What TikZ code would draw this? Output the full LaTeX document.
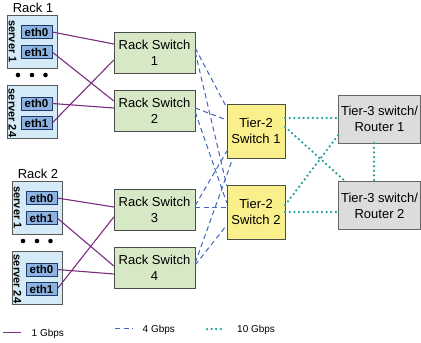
\documentclass[tikz,border=0pt]{standalone}
\usepackage{fontspec}
\setmainfont{Liberation Sans}
\usepackage{tikz}
\usetikzlibrary{positioning,shapes}
\definecolor{srvblue}{HTML}{D5EAF7}
\definecolor{ethblue}{HTML}{8DB3E2}
\definecolor{ethnavy}{HTML}{1F3864}
\definecolor{rsgreen}{HTML}{D6E8C5}
\definecolor{tyellow}{HTML}{F9F08B}
\definecolor{rgray}{HTML}{DCDCDC}
\definecolor{purp}{HTML}{7B2C7F}
\definecolor{dblue}{HTML}{3F66C0}
\definecolor{dteal}{HTML}{1E9E9A}
\tikzstyle{server} = [rectangle, minimum width=50pt, minimum height=53pt, inner sep=0pt, draw=black!65, fill=srvblue]
\tikzstyle{eth} = [rectangle, minimum width=31pt, minimum height=13pt, inner sep=0pt, draw=ethnavy, fill=ethblue, font=\fontsize{11.5}{12}\selectfont\bfseries]
\tikzstyle{srvname} = [rotate=-90, inner sep=0pt, font=\fontsize{11}{12}\selectfont\bfseries]
\tikzstyle{rack} = [inner sep=0pt, font=\fontsize{13}{14}\selectfont]
\tikzstyle{rswitch} = [rectangle, minimum width=81pt, minimum height=41pt, inner sep=0pt, text centered, align=center, draw=black!70, fill=rsgreen]
\tikzstyle{tswitch} = [rectangle, minimum width=58pt, minimum height=54pt, inner sep=0pt, text centered, align=center, draw=black!70, fill=tyellow]
\tikzstyle{router} = [rectangle, minimum width=82pt, minimum height=48pt, inner sep=0pt, text centered, align=center, draw=black!60, fill=rgray]
\tikzstyle{gb1} = [line width=1.1pt, draw=purp]
\tikzstyle{gb4} = [line width=1pt, draw=dblue, dash pattern=on 5pt off 3.5pt]
\tikzstyle{gb10} = [line width=2.5pt, draw=dteal, line cap=round, dash pattern=on 0pt off 4.6pt]
\tikzstyle{legend} = [anchor=west, inner sep=2pt, font=\fontsize{10}{12}\selectfont]

\begin{document}
\begin{tikzpicture}[x=1pt, y=1pt, node distance=58pt, font=\fontsize{13}{16}\selectfont]
\useasboundingbox (0,0) rectangle (421,-343);

% rack 1
\node (rack1) [rack] at (33,-8) {Rack 1};
\node (srv1a) [server] at (32,-41.5) {};
\node (srv24a) [server, below of=srv1a, yshift=-12.5pt] {};
\node (sn1a) [srvname] at ([xshift=-19.5pt]srv1a.center) {server 1};
\node (sn24a) [srvname] at ([xshift=-19.5pt, yshift=-1pt]srv24a.center) {server 24};
\node (e0a) [eth] at ([xshift=4.5pt, yshift=9.5pt]srv1a.center) {eth0};
\node (e1a) [eth] at ([xshift=4.5pt, yshift=-10.5pt]srv1a.center) {eth1};
\node (e0c) [eth] at ([xshift=4.5pt, yshift=8.5pt]srv24a.center) {eth0};
\node (e1c) [eth] at ([xshift=4.5pt, yshift=-11pt]srv24a.center) {eth1};
\foreach \dx in {-14,0,13.5} \fill ([xshift=\dx pt, yshift=-33.5pt]srv1a.center) circle (2.3pt);

% rack 2
\node (rack2) [rack] at (38,-174) {Rack 2};
\node (srv1b) [server] at (37,-207.5) {};
\node (srv24b) [server, below of=srv1b, yshift=-12.5pt] {};
\node (sn1b) [srvname] at ([xshift=-19.5pt]srv1b.center) {server 1};
\node (sn24b) [srvname] at ([xshift=-19.5pt, yshift=-1pt]srv24b.center) {server 24};
\node (e0b) [eth] at ([xshift=4.5pt, yshift=9.5pt]srv1b.center) {eth0};
\node (e1b) [eth] at ([xshift=4.5pt, yshift=-10.5pt]srv1b.center) {eth1};
\node (e0d) [eth] at ([xshift=4.5pt, yshift=8.5pt]srv24b.center) {eth0};
\node (e1d) [eth] at ([xshift=4.5pt, yshift=-11pt]srv24b.center) {eth1};
\foreach \dx in {-14,0,13.5} \fill ([xshift=\dx pt, yshift=-33.5pt]srv1b.center) circle (2.3pt);

% switches
\node (rs1) [rswitch] at (154.5,-52.5) {Rack Switch\\1};
\node (rs2) [rswitch, below of=rs1] {Rack Switch\\2};
\node (rs3) [rswitch, below of=rs2, yshift=-41pt] {Rack Switch\\3};
\node (rs4) [rswitch, below of=rs3] {Rack Switch\\4};
\node (t2a) [tswitch] at (256,-131) {Tier-2\\Switch 1};
\node (t2b) [tswitch, below of=t2a, yshift=-23pt] {Tier-2\\Switch 2};
\node (r1) [router] at (379.5,-119) {Tier-3 switch/\\Router 1};
\node (r2) [router, below of=r1, yshift=-28.5pt] {Tier-3 switch/\\Router 2};

% 1 Gbps
\draw [gb1] (e0a.east) -- ([yshift=8.5pt]rs1.west);
\draw [gb1] (e1a.east) -- ([yshift=9.5pt]rs2.west);
\draw [gb1] (e0c.east) -- ([yshift=2.5pt]rs2.west);
\draw [gb1] (e1c.east) -- ([yshift=-7.5pt]rs1.west);
\draw [gb1] (e0b.east) -- ([yshift=2.5pt]rs3.west);
\draw [gb1] (e1b.east) -- ([yshift=1.5pt]rs4.west);
\draw [gb1] (e0d.east) -- ([yshift=-6.5pt]rs4.west);
\draw [gb1] (e1d.east) -- ([yshift=-7.5pt]rs3.west);

% 4 Gbps
\draw [gb4] ([yshift=4.5pt]rs1.east) -- ([yshift=-4pt]t2a.north west);
\draw [gb4] ([yshift=0.5pt]rs1.east) -- ([yshift=-1pt]t2b.north west);
\draw [gb4] ([yshift=2.5pt]rs2.east) -- ([yshift=11pt]t2a.west);
\draw [gb4] ([yshift=-1.5pt]rs2.east) -- ([yshift=9pt]t2b.west);
\draw [gb4] ([yshift=2pt]rs3.east) -- ([yshift=4.5pt]t2b.west);
\draw [gb4] ([yshift=4pt]rs3.east) -- ([yshift=7pt]t2a.south west);
\draw [gb4] ([yshift=2.5pt]rs4.east) -- ([yshift=-13pt]t2b.west);
\draw [gb4] ([yshift=4.5pt]rs4.east) -- ([xshift=6pt]t2a.south west);

% 10 Gbps
\draw [gb10] ([yshift=13pt]t2a.east) -- ([yshift=1pt]r1.west);
\draw [gb10] ([yshift=4pt]t2a.east) -- ([xshift=7pt]r2.north west);
\draw [gb10] ([yshift=7pt]t2b.east) -- ([yshift=-16pt]r1.west);
\draw [gb10] (t2b.east) -- ([yshift=-6.5pt]r2.west);
\draw [gb10] ([xshift=-5.5pt]r1.south) -- ([xshift=-5.5pt]r2.north);

% legend
\node (lg1) [legend] at (29.5,-333.5) {1 Gbps};
\node (lg4) [legend] at (140.5,-329.5) {4 Gbps};
\node (lg10) [legend] at (235,-329.5) {10 Gbps};
\coordinate (lg1a) at (3,-332.5);
\coordinate (lg4a) at (115,-328.5);
\coordinate (lg10a) at (207,-329);
\draw [gb1] (lg1a) -- ([xshift=-8.5pt, yshift=1pt]lg1.west);
\draw [gb4] (lg4a) -- ([xshift=-7.5pt, yshift=1pt]lg4.west);
\draw [gb10] (lg10a) -- ([xshift=-10pt, yshift=0.5pt]lg10.west);

\end{tikzpicture}
\end{document}
